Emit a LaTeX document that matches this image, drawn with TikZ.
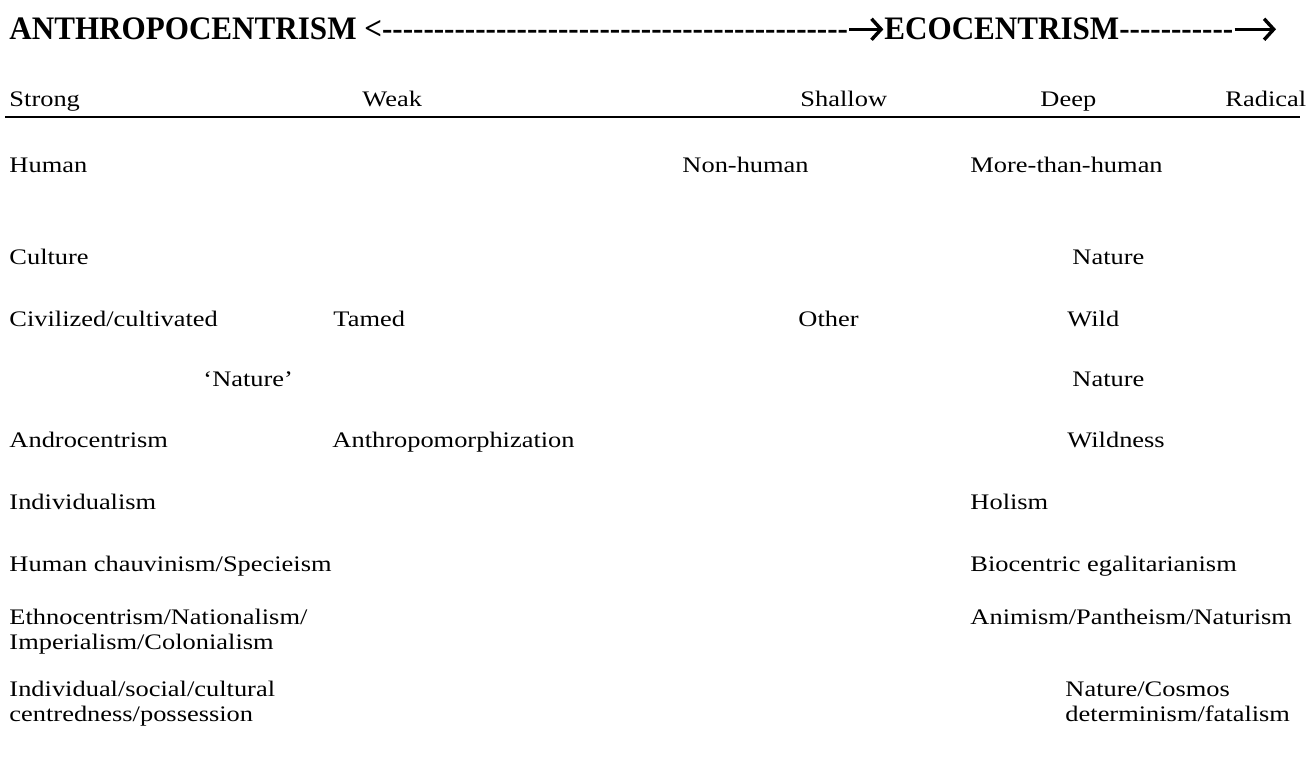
\documentclass[tikz,border=0pt]{standalone}
\usepackage{fontspec}
\setmainfont{Liberation Serif}
\newfontfamily\titlefont{Liberation Serif}[Ligatures=TeXOff]
\usetikzlibrary{arrows.meta}
\begin{document}
\begin{tikzpicture}[x=0.5pt,y=-0.5pt,
  txt/.style={inner sep=0pt, anchor=base west, xscale=1.19,
    font=\fontsize{11.1}{12.5}\selectfont, align=left},
  ttl/.style={inner sep=0pt, anchor=base west, xscale=0.948,
    font=\titlefont\fontsize{16.4}{18}\selectfont\bfseries},
  titlearrow/.style={line width=1.7pt,
    -{Straight Barb[length=4.8pt,width=10.5pt]}},
  rulestyle/.style={line width=1.1pt}]
\useasboundingbox (0,0) rectangle (1308,758);
% title
\node[ttl] (t1) at (9,40) {ANTHROPOCENTRISM <---------------------------------------------};
\node[ttl] (t2) at (884,40) {ECOCENTRISM-----------};
\coordinate (arr2x) at (1276,29);
\draw[titlearrow] ([xshift=0.5pt]t1.east) -- ([xshift=-0.3pt]t2.west);
\draw[titlearrow] ([xshift=0.5pt]t2.east) -- (t2.east -| arr2x);
% header row
\node[txt] (strong)  at (9,107)    {Strong};
\node[txt] (weak)    at (362,107)  {Weak};
\node[txt] (shallow) at (800,107)  {Shallow};
\node[txt] (deep)    at (1040,107) {Deep};
\node[txt] (radical) at (1225,107) {Radical};
\coordinate (ruleL) at (5,117);
\coordinate (ruleR) at (1300,117);
\draw[rulestyle] (ruleL) -- (ruleR);
% rows
\node[txt] (human)    at (9,173)   {Human};
\node[txt] (nonhuman) at (682,173) {Non-human};
\node[txt] (morethan) at (970,173) {More-than-human};
\node[txt] (culture)  at (9,265)   {Culture};
\node[txt] (nature1)  at (1072,265) {Nature};
\node[txt] (civil)    at (9,327)   {Civilized/cultivated};
\node[txt] (tamed)    at (333,327) {Tamed};
\node[txt] (other)    at (798,327) {Other};
\node[txt] (wild)     at (1067,327) {Wild};
\node[txt] (qnature)  at (203,387) {‘Nature’};
\node[txt] (nature2)  at (1072,387) {Nature};
\node[txt] (andro)    at (9,448)   {Androcentrism};
\node[txt] (anthropo) at (332,448) {Anthropomorphization};
\node[txt] (wildness) at (1067,448) {Wildness};
\node[txt] (indiv)    at (9,510)   {Individualism};
\node[txt] (holism)   at (970,510) {Holism};
\node[txt] (chauv)    at (9,572)   {Human chauvinism/Specieism};
\node[txt] (bioc)     at (970,572) {Biocentric egalitarianism};
\node[txt] (ethno)    at (9,650)   {Ethnocentrism/Nationalism/\\Imperialism/Colonialism};
\node[txt] (animism)  at (970,625) {Animism/Pantheism/Naturism};
\node[txt] (indsoc)   at (9,722)   {Individual/social/cultural\\centredness/possession};
\node[txt] (cosmos)   at (1065,722) {Nature/Cosmos\\determinism/fatalism};
\end{tikzpicture}
\end{document}
